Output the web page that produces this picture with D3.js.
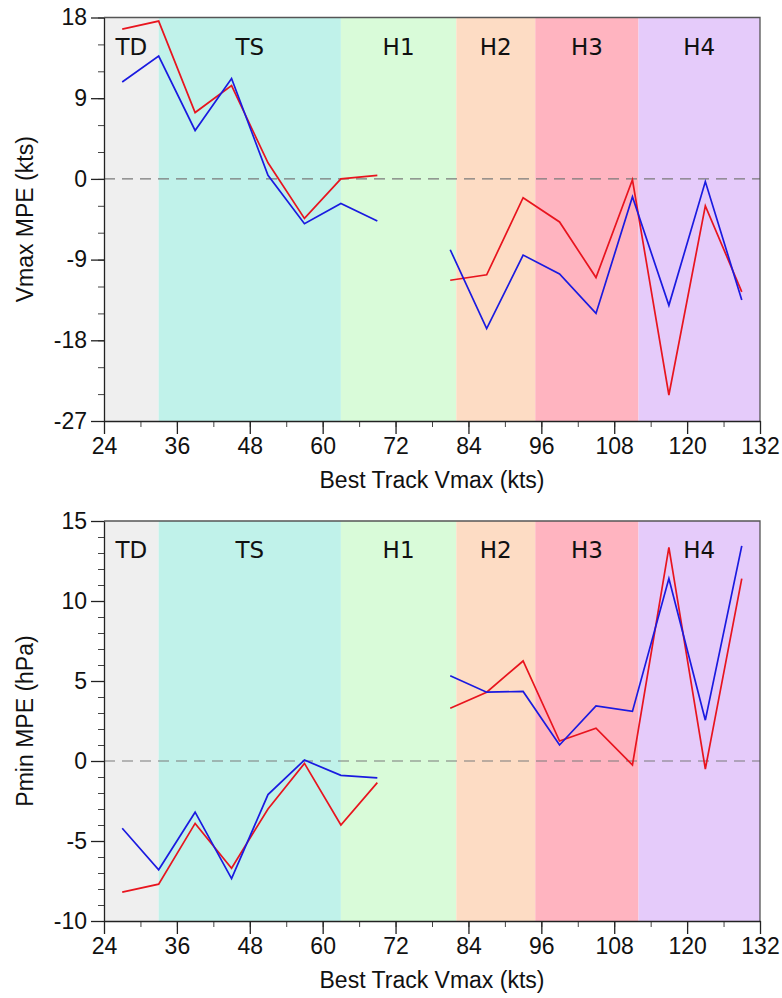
<!DOCTYPE html>
<html>
<head>
<meta charset="utf-8">
<script src="https://cdn.jsdelivr.net/npm/d3@7"></script>
<style>
  body { margin: 0; background: #fff; }
  .tick text { font-family: "Liberation Sans", Arial, sans-serif; font-size: 23px; fill: #111; }
  .cat { font-family: "DejaVu Sans", Verdana, sans-serif; font-size: 23px; fill: #111; }
  .title { font-family: "Liberation Sans", Arial, sans-serif; font-size: 23px; fill: #111; }
</style>
</head>
<body>
<div id="chart"></div>
<script>
// intensity categories (band edges in kts)
const categories = ["TD", "TS", "H1", "H2", "H3", "H4"];
const bandEdges = [24, 33, 63, 82, 95, 112, 132];
const bandColors = ["#efefef", "#c0f2ea", "#d9fbd9", "#fddcc4", "#ffb4c0", "#e5cbfa"];

// best track Vmax bins (no data at 75 kts)
const vmaxBins = [27, 33, 39, 45, 51, 57, 63, 69, 75, 81, 87, 93, 99, 105, 111, 117, 123, 129];
const xTicks = [24, 36, 48, 60, 72, 84, 96, 108, 120, 132];

// Vmax MPE (kts)
const vmaxRed  = [16.7, 17.6, 7.4, 10.4, 1.8, -4.4, 0.0, 0.4, null, -11.3, -10.7, -2.1, -4.8, -11.0, -0.1, -24.1, -3.0, -12.6];
const vmaxBlue = [10.8, 13.7, 5.4, 11.2, 0.4, -5.0, -2.75, -4.7, null, -7.9, -16.7, -8.5, -10.6, -15.0, -2.0, -14.1, -0.3, -13.5];
const vmaxTicks = [-27, -18, -9, 0, 9, 18];

// Pmin MPE (hPa)
const pminRed  = [-8.2, -7.7, -3.9, -6.7, -3.0, -0.15, -4.0, -1.35, null, 3.3, 4.3, 6.25, 1.25, 2.05, -0.25, 13.35, -0.5, 11.4];
const pminBlue = [-4.2, -6.8, -3.2, -7.35, -2.1, 0.06, -0.9, -1.05, null, 5.33, 4.3, 4.35, 1.0, 3.45, 3.1, 11.4, 2.55, 13.45];
const pminTicks = [-10, -5, 0, 5, 10, 15];

const width = 782, height = 998;
const svg = d3.select("#chart").append("svg")
    .attr("width", width)
    .attr("height", height);

const x = d3.scaleLinear().domain([24, 132]).range([104, 760]);

function drawPanel(top, bottom, yDomain, majorTicks, minorStep, red, blue, yTitle) {
    const y = d3.scaleLinear().domain(yDomain).range([bottom, top]);
    const g = svg.append("g");

    // category bands
    g.selectAll("rect.band")
        .data(categories)
        .enter().append("rect")
        .attr("x", (d, i) => x(bandEdges[i]))
        .attr("width", (d, i) => x(bandEdges[i + 1]) - x(bandEdges[i]))
        .attr("y", top)
        .attr("height", bottom - top)
        .attr("fill", (d, i) => bandColors[i]);

    g.selectAll("text.cat")
        .data(categories)
        .enter().append("text")
        .attr("class", "cat")
        .attr("x", (d, i) => (x(bandEdges[i]) + x(bandEdges[i + 1])) / 2)
        .attr("y", top + 37)
        .attr("text-anchor", "middle")
        .text(d => d);

    // zero line
    g.append("line")
        .attr("x1", x(24)).attr("x2", x(132))
        .attr("y1", y(0)).attr("y2", y(0))
        .attr("stroke", "#7a7a7a")
        .attr("stroke-width", 1.2)
        .attr("stroke-dasharray", "11,7");

    // lines
    const line = d3.line()
        .defined(d => d[1] !== null)
        .x(d => x(d[0]))
        .y(d => y(d[1]));

    [[red, "#e8141e"], [blue, "#1a1ae0"]].forEach(([vals, col]) => {
        g.append("path")
            .datum(vmaxBins.map((b, i) => [b, vals[i]]))
            .attr("d", line)
            .attr("fill", "none")
            .attr("stroke", col)
            .attr("stroke-width", 1.7);
    });

    // frame (top / right)
    g.append("path")
        .attr("d", `M${x(24)},${top}H${x(132)}V${bottom}`)
        .attr("fill", "none")
        .attr("stroke", "#555")
        .attr("stroke-width", 1.3);

    // minor ticks
    const minorY = d3.range(yDomain[0], yDomain[1] + 0.001, minorStep);
    g.append("g")
        .attr("transform", `translate(${x(24)},0)`)
        .call(d3.axisLeft(y).tickValues(minorY).tickSize(6).tickFormat(""))
        .call(a => a.select(".domain").remove())
        .selectAll("line").attr("stroke", "#444");

    const minorX = d3.range(24, 133, 6);
    g.append("g")
        .attr("transform", `translate(0,${bottom})`)
        .call(d3.axisBottom(x).tickValues(minorX).tickSize(6).tickFormat(""))
        .call(a => a.select(".domain").remove())
        .selectAll("line").attr("stroke", "#444");

    // major axes (plain hyphen for negatives)
    const fmt = d => String(d);
    const yAxis = g.append("g")
        .attr("transform", `translate(${x(24)},0)`)
        .call(d3.axisLeft(y).tickValues(majorTicks).tickFormat(fmt).tickSize(13).tickPadding(4).tickSizeOuter(0));
    const xAxis = g.append("g")
        .attr("transform", `translate(0,${bottom})`)
        .call(d3.axisBottom(x).tickValues(xTicks).tickFormat(fmt).tickSize(13).tickPadding(4).tickSizeOuter(0));
    [yAxis, xAxis].forEach(a => {
        a.select(".domain").attr("stroke", "#222").attr("stroke-width", 1.3);
        a.selectAll("line").attr("stroke", "#222").attr("stroke-width", 1.3);
    });

    // titles
    g.append("text")
        .attr("class", "title")
        .attr("x", (x(24) + x(132)) / 2)
        .attr("y", bottom + 67)
        .attr("text-anchor", "middle")
        .text("Best Track Vmax (kts)");

    g.append("text")
        .attr("class", "title")
        .attr("transform", `translate(33,${(top + bottom) / 2}) rotate(-90)`)
        .attr("text-anchor", "middle")
        .text(yTitle);
}

drawPanel(17.5, 421, [-27, 18], vmaxTicks, 3, vmaxRed, vmaxBlue, "Vmax MPE (kts)");
drawPanel(521, 921, [-10, 15], pminTicks, 1, pminRed, pminBlue, "Pmin MPE (hPa)");
</script>
</body>
</html>
